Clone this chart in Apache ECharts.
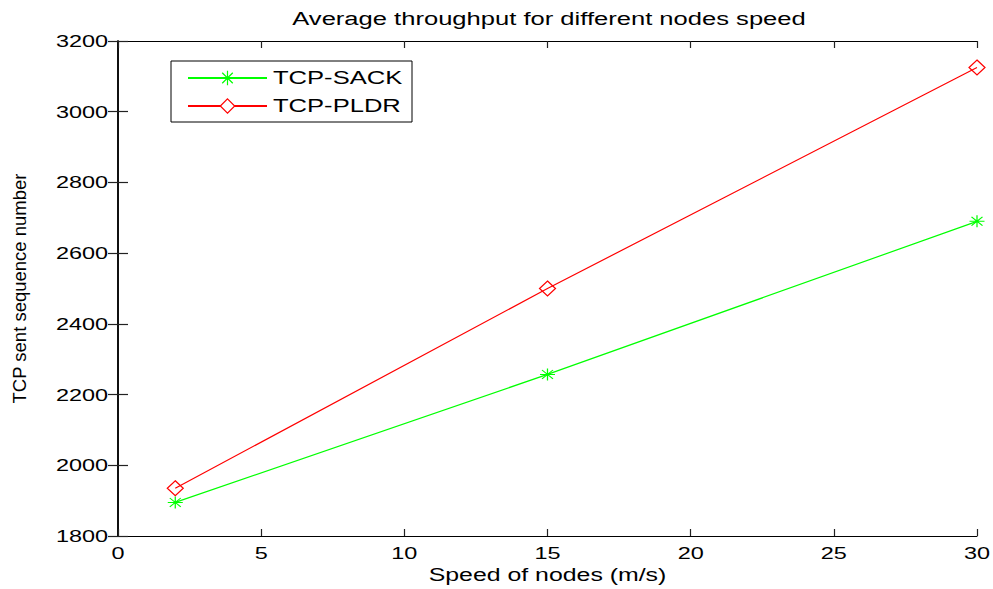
<!DOCTYPE html>
<html>
<head>
<meta charset="utf-8">
<script src="https://cdn.jsdelivr.net/npm/echarts@6/dist/echarts.min.js"></script>
<style>
  html, body { margin: 0; padding: 0; background: #fff; }
  #chart { width: 993px; height: 589px; }
</style>
</head>
<body>
<div id="chart"></div>
<script>
// Node speed (m/s) and TCP sent sequence numbers for each variant
const speeds = [2, 15, 30];
const sackValues = [1895, 2257, 2690];
const pldrValues = [1935, 2500, 3125];
const seriesNames = ['TCP-SACK', 'TCP-PLDR'];

const FONT = '"Liberation Sans", Arial, Helvetica, sans-serif';
// Horizontal text runs are drawn wide (as in the original export)
const TEXT_WIDEN = 1.42;

// Asterisk marker built from four thin bars
const asterisk = 'path://M0 11 L24 11 L24 13 L0 13 Z M11 0 L13 0 L13 24 L11 24 Z ' +
  'M2.5 3.9 L3.9 2.5 L21.5 20.1 L20.1 21.5 Z M20.1 2.5 L21.5 3.9 L3.9 21.5 L2.5 20.1 Z';

const toPairs = (xs, ys) => xs.map((x, i) => [x, ys[i]]);

const chart = echarts.init(document.getElementById('chart'), null, { renderer: 'svg' });

const hLine = { color: '#000', width: 1 };
const vLine = { color: '#000', width: 1.5 };
const tickStyle = { color: '#222', width: 1.2 };
const plainNumber = v => String(v);

chart.setOption({
  animation: false,
  backgroundColor: '#fff',
  title: {
    text: 'Average throughput for different nodes speed',
    left: 544,
    textAlign: 'center',
    top: 5,
    textStyle: { fontFamily: FONT, fontSize: 18, fontWeight: 'normal', color: '#000' }
  },
  grid: { left: 118, right: 16, top: 41, bottom: 53, containLabel: false },
  legend: {
    orient: 'vertical',
    left: 171,
    top: 61,
    itemWidth: 79,
    itemHeight: 18,
    itemGap: 10,
    padding: [8, 48, 7, 16],
    borderColor: '#000',
    borderWidth: 1,
    backgroundColor: '#fff',
    textStyle: { fontFamily: FONT, fontSize: 18, color: '#000', padding: [0, 0, 0, 1] },
    data: [
      { name: seriesNames[0] },
      { name: seriesNames[1], itemStyle: { color: '#fff', borderColor: '#ff0000', borderWidth: 1.2 } }
    ]
  },
  xAxis: [
    {
      type: 'value', min: 0, max: 30, interval: 5,
      name: 'Speed of nodes (m/s)', nameLocation: 'middle', nameGap: 30,
      nameTextStyle: { fontFamily: FONT, fontSize: 17.5, color: '#000' },
      axisLine: { show: true, lineStyle: hLine },
      axisTick: { show: true, inside: true, length: 7, lineStyle: tickStyle },
      axisLabel: { fontFamily: FONT, fontSize: 16.5, color: '#000', margin: 8, formatter: plainNumber },
      splitLine: { show: false }
    },
    {
      type: 'value', min: 0, max: 30, interval: 5, position: 'top',
      axisLine: { show: true, lineStyle: hLine },
      axisTick: { show: true, inside: true, length: 7, lineStyle: tickStyle },
      axisLabel: { show: false },
      splitLine: { show: false }
    }
  ],
  yAxis: [
    {
      type: 'value', min: 1800, max: 3200, interval: 200,
      name: 'TCP sent sequence number', nameLocation: 'middle', nameGap: 89,
      nameTextStyle: { fontFamily: FONT, fontSize: 18.5, color: '#000' },
      axisLine: { show: true, lineStyle: vLine },
      axisTick: { show: true, inside: true, length: 10, lineStyle: tickStyle },
      axisLabel: { fontFamily: FONT, fontSize: 16.5, color: '#000', margin: 10, formatter: plainNumber },
      splitLine: { show: false }
    },
    {
      type: 'value', min: 1800, max: 3200, interval: 200, position: 'right',
      axisLine: { show: true, lineStyle: vLine },
      axisTick: { show: true, inside: true, length: 10, lineStyle: tickStyle },
      axisLabel: { show: false },
      splitLine: { show: false }
    }
  ],
  series: [
    {
      name: seriesNames[0],
      type: 'line',
      data: toPairs(speeds, sackValues),
      symbol: asterisk,
      symbolSize: [15, 12],
      symbolKeepAspect: false,
      showAllSymbol: true,
      lineStyle: { color: '#00ff00', width: 1.2 },
      itemStyle: { color: '#00ff00', borderWidth: 0 },
      z: 3
    },
    {
      name: seriesNames[1],
      type: 'line',
      data: toPairs(speeds, pldrValues),
      symbol: 'diamond',
      symbolSize: [16, 15],
      showAllSymbol: true,
      lineStyle: { color: '#ff0000', width: 1.2 },
      itemStyle: { color: 'rgba(255,255,255,0)', borderColor: '#ff0000', borderWidth: 1.2 },
      z: 3
    }
  ]
});

// Widen every horizontal text run around its anchor point
function widenTexts() {
  const texts = document.querySelectorAll('#chart svg text');
  texts.forEach(t => {
    if (t.dataset.widened) return;
    const tr = t.getAttribute('transform') || '';
    const m = tr.match(/matrix\(([^)]+)\)/);
    if (m) {
      const p = m[1].split(/[\s,]+/).map(Number);
      if (Math.abs(p[1]) > 1e-3 || Math.abs(p[2]) > 1e-3) return; // rotated label
    }
    const len = t.getComputedTextLength();
    if (!len) return;
    t.setAttribute('textLength', (len * TEXT_WIDEN).toFixed(2));
    t.setAttribute('lengthAdjust', 'spacingAndGlyphs');
    t.dataset.widened = '1';
  });
}
chart.on('finished', widenTexts);
widenTexts();
</script>
</body>
</html>
